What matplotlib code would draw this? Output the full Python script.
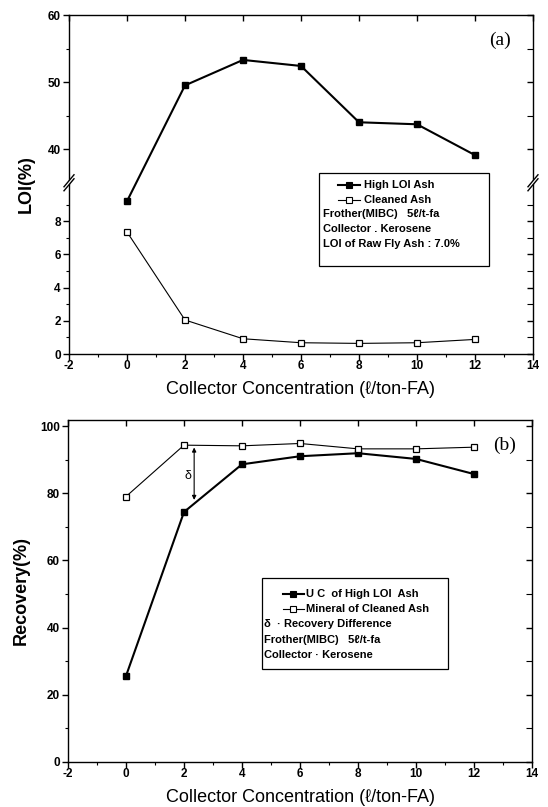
import numpy as np
import matplotlib
matplotlib.use('Agg')
import matplotlib.pyplot as plt
from matplotlib.patches import Rectangle, Polygon
from matplotlib.lines import Line2D

plt.rcParams['font.family'] = ['Liberation Sans', 'DejaVu Sans']

# ---------------- data ----------------
conc = [0, 2, 4, 6, 8, 10, 12]
loi_high = [9.2, 49.5, 53.3, 52.4, 44.0, 43.7, 39.1]
loi_clean = [7.35, 2.05, 0.92, 0.68, 0.64, 0.68, 0.88]
rec_uc = [25.6, 74.4, 88.6, 91.0, 91.9, 90.2, 85.7]
rec_mineral = [79.0, 94.3, 94.1, 94.8, 93.2, 93.2, 93.7]

x_major = [-2, 0, 2, 4, 6, 8, 10, 12, 14]
x_minor = [-1, 1, 3, 5, 7, 9, 11, 13]
loi_major = [0, 2, 4, 6, 8, 40, 50, 60]
loi_minor = [1, 3, 5, 7, 9, 45, 55]
rec_major = [0, 20, 40, 60, 80, 100]
rec_minor = [10, 30, 50, 70, 90]

legend_a = ["High LOI Ash", "Cleaned Ash", "Frother(MIBC)   5\u2113/t-fa",
            "Collector . Kerosene", "LOI of Raw Fly Ash : 7.0%"]
legend_b = ["U C  of High LOI  Ash", "Mineral of Cleaned Ash",
            "\u03b4  \u00b7 Recovery Difference", "Frother(MIBC)   5\u2113/t-fa",
            "Collector \u00b7 Kerosene"]
xlabel = "Collector Concentration (\u2113/ton-FA)"

# ---------------- broken y scale for panel (a) ----------------
LOW_TOP, UP_BOT, R, G = 10.3, 35.0, 0.4036, 0.02
xp = np.array([-1000.0, 0.0, LOW_TOP, UP_BOT, 60.0, 1000.0])
fp = np.array([-1000.0, 0.0, LOW_TOP, LOW_TOP + G, LOW_TOP + G + 25 * R,
               LOW_TOP + G + 25 * R + 940 * R])


def fwd(v):
    return np.interp(v, xp, fp)


def inv(d):
    return np.interp(d, fp, xp)


fig = plt.figure(figsize=(5.48, 8.07), dpi=100)
ax1 = fig.add_axes([0.1259, 0.5613, 0.8467, 0.4201])
ax2 = fig.add_axes([0.1241, 0.0558, 0.8467, 0.4238])

tick_font = dict(fontsize=8.5, fontweight='bold')
LEG_FS = 8.0


def style_axis(ax, ymaj, ymin, ylim, yscale=None):
    ax.set_xlim(-2, 14)
    if yscale:
        ax.set_yscale('function', functions=yscale)
    ax.set_ylim(*ylim)
    ax.set_xticks(x_major)
    ax.set_xticks(x_minor, minor=True)
    ax.set_yticks(ymaj)
    ax.set_yticks(ymin, minor=True)
    ax.set_xticklabels([str(v) for v in x_major], **tick_font)
    ax.set_yticklabels([str(v) for v in ymaj], **tick_font)
    ax.tick_params(which='major', direction='out', length=4, width=1, pad=2)
    ax.tick_params(axis='x', which='major', pad=0.5)
    ax.tick_params(which='minor', direction='out', length=2.5, width=0.8)
    for s in ax.spines.values():
        s.set_linewidth(1.0)
    # right side ticks (inward)
    axr = ax.twinx()
    if yscale:
        axr.set_yscale('function', functions=yscale)
    axr.set_ylim(*ylim)
    axr.set_yticks(ymaj)
    axr.set_yticks(ymin, minor=True)
    axr.set_yticklabels([])
    axr.tick_params(which='major', direction='in', length=4, width=1)
    axr.tick_params(which='minor', direction='in', length=4, width=0.8)
    for s in axr.spines.values():
        s.set_visible(False)
    # top ticks (inward)
    axt = ax.twiny()
    axt.set_xlim(-2, 14)
    axt.set_xticks(x_major)
    axt.set_xticklabels([])
    axt.tick_params(which='major', direction='in', length=4, width=1)
    for s in axt.spines.values():
        s.set_visible(False)
    ax.set_xlabel(xlabel, fontsize=13, labelpad=6)


def legend_box(ax, x0, y0, x1, y1, rows, handles, line_text_x, text_x):
    ax.add_patch(Rectangle((x0, y0), x1 - x0, y1 - y0, transform=ax.transAxes,
                           facecolor='white', edgecolor='black', lw=0.9, zorder=5))
    for i, (txt, ry) in enumerate(rows):
        if i < len(handles):
            (hx0, hx1, filled, lw) = handles[i]
            ax.add_line(Line2D([hx0, hx1], [ry, ry], transform=ax.transAxes,
                               color='black', lw=lw, zorder=6))
            ax.add_line(Line2D([(hx0 + hx1) / 2], [ry], transform=ax.transAxes,
                               marker='s', ms=4,
                               mfc='black' if filled else 'white',
                               mec='black', mew=0.8, zorder=6))
            ax.text(line_text_x, ry, txt, transform=ax.transAxes, fontsize=LEG_FS,
                    fontweight='bold', va='center', ha='left', zorder=6)
        else:
            ax.text(text_x, ry, txt, transform=ax.transAxes, fontsize=LEG_FS,
                    fontweight='bold', va='center', ha='left', zorder=6)


# ---------------- panel (a) ----------------
ax1.plot(conc, loi_high, '-s', color='black', lw=1.5, ms=4.5, mfc='black',
         mec='black', zorder=3)
ax1.plot(conc, loi_clean, '-s', color='black', lw=0.8, ms=4.5, mfc='white',
         mec='black', mew=0.9, zorder=3)
style_axis(ax1, loi_major, loi_minor, (0, 60), yscale=(fwd, inv))
ax1.set_ylabel("LOI(%)", fontsize=13, fontweight='bold', labelpad=9)
ax1.text(0.929, 0.926, "(a)", transform=ax1.transAxes, fontsize=14,
         family='Liberation Serif', ha='center', va='center')

# break marks
yb = (LOW_TOP + G / 2) / fwd(60)
pxw, pxh = 1 / 464.0, 1 / 339.0
for xs in (0.0, 1.0):
    a0 = (xs - 5 * pxw, yb - 8 * pxh)
    a1 = (xs + 5 * pxw, yb + 4 * pxh)
    b0 = (xs - 5 * pxw, yb - 4 * pxh)
    b1 = (xs + 5 * pxw, yb + 8 * pxh)
    ax1.add_patch(Polygon([a0, a1, b1, b0], closed=True, transform=ax1.transAxes,
                          facecolor='white', edgecolor='none', clip_on=False,
                          zorder=10))
    for p, q in ((a0, a1), (b0, b1)):
        ax1.add_line(Line2D([p[0], q[0]], [p[1], q[1]], transform=ax1.transAxes,
                            color='black', lw=1.0, clip_on=False, zorder=11))

ya = [0.498, 0.455, 0.412, 0.369, 0.326]
legend_box(ax1, 0.539, 0.26, 0.905, 0.534,
           list(zip(legend_a, ya)),
           [(0.58, 0.627, True, 1.5), (0.58, 0.627, False, 0.8)],
           0.635, 0.548)

# ---------------- panel (b) ----------------
ax2.plot(conc, rec_uc, '-s', color='black', lw=1.5, ms=4.5, mfc='black',
         mec='black', zorder=3)
ax2.plot(conc, rec_mineral, '-s', color='black', lw=0.8, ms=4.5, mfc='white',
         mec='black', mew=0.9, zorder=3)
style_axis(ax2, rec_major, rec_minor, (0, 101.8))
ax2.set_ylabel("Recovery(%)", fontsize=13, fontweight='bold', labelpad=7)
ax2.text(0.94, 0.927, "(b)", transform=ax2.transAxes, fontsize=14,
         family='Liberation Serif', ha='center', va='center')

ax2.annotate("", xy=(2.35, 78.0), xytext=(2.35, 93.6),
             arrowprops=dict(arrowstyle='<|-|>', color='black', lw=0.8,
                             mutation_scale=6, shrinkA=0, shrinkB=0))
ax2.text(2.14, 85.0, "\u03b4", fontsize=9, ha='center', va='center')

yb_ = [0.49, 0.447, 0.403, 0.357, 0.313]
legend_box(ax2, 0.418, 0.272, 0.819, 0.538,
           list(zip(legend_b, yb_)),
           [(0.463, 0.508, True, 1.5), (0.463, 0.508, False, 0.8)],
           0.512, 0.423)

fig.savefig("out.png", dpi=100)
